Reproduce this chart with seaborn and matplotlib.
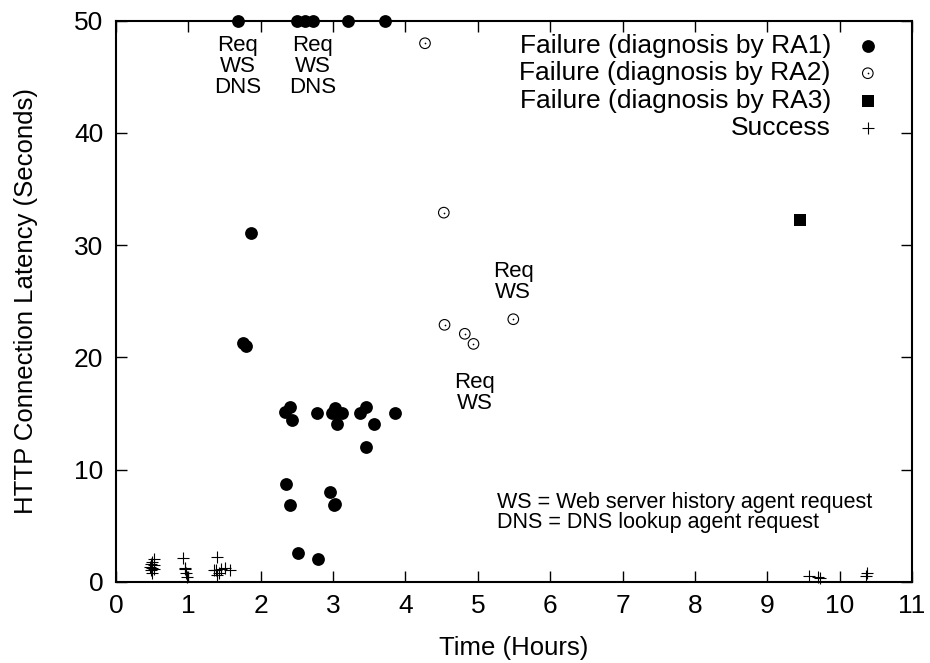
import numpy as np
import pandas as pd
import matplotlib
matplotlib.use('Agg')
import matplotlib.pyplot as plt
import seaborn as sns

# Datos (horas, segundos)
ra1_horas = [1.69, 2.50, 2.61, 2.72, 3.21, 3.72,
             1.86, 1.76, 1.79,
             2.33, 2.40, 2.43, 2.78, 3.02, 2.98, 3.05, 3.12, 3.06, 3.37, 3.45, 3.57, 3.85, 3.46,
             2.35, 2.41, 2.96, 3.01, 3.03, 2.52, 2.79]
ra1_latencia = [50, 50, 50, 50, 50, 50,
                31.1, 21.3, 21.0,
                15.1, 15.6, 14.4, 15.0, 15.45, 15.0, 15.0, 15.0, 14.1, 15.0, 15.55, 14.1, 15.0, 12.0,
                8.7, 6.8, 8.0, 6.85, 6.9, 2.6, 2.0]

ra2_horas = [4.27, 4.53, 4.54, 4.82, 4.94, 5.49]
ra2_latencia = [48.0, 32.9, 22.9, 22.1, 21.2, 23.4]

ra3_horas = [9.45]
ra3_latencia = [32.2]

exito_horas = [0.48, 0.50, 0.52, 0.50, 0.52, 0.47, 0.53, 0.50, 0.49,
               0.93, 0.95, 0.97, 0.98, 0.96,
               1.40, 1.38, 1.42, 1.45, 1.50, 1.57, 1.40, 1.35,
               9.58, 9.70, 9.73, 10.37, 10.38]
exito_latencia = [1.0, 1.2, 1.5, 1.8, 2.0, 1.3, 1.1, 0.8, 1.6,
                  2.1, 1.2, 0.8, 0.4, 1.1,
                  2.2, 1.0, 0.8, 1.1, 1.2, 1.05, 0.6, 1.0,
                  0.5, 0.45, 0.3, 0.5, 0.75]

etiquetas_serie = ['Failure (diagnosis by RA1)', 'Failure (diagnosis by RA2)',
                   'Failure (diagnosis by RA3)', 'Success']

# Anotaciones: (texto, hora, latencia)
anotaciones = [('Req\nWS\nDNS', 1.68, 45.9), ('Req\nWS\nDNS', 2.72, 45.9),
               ('Req\nWS', 5.49, 26.7), ('Req\nWS', 4.96, 16.8)]
nota = 'WS = Web server history agent request\nDNS = DNS lookup agent request'

sns.set_style('ticks')
plt.rcParams['font.family'] = ['Liberation Sans', 'DejaVu Sans']
plt.rcParams['text.color'] = 'black'
plt.rcParams['axes.labelcolor'] = 'black'
plt.rcParams['xtick.color'] = 'black'
plt.rcParams['ytick.color'] = 'black'


def generar_grafico():
    df1 = pd.DataFrame({'Hora': ra1_horas, 'Latencia': ra1_latencia})
    df2 = pd.DataFrame({'Hora': ra2_horas, 'Latencia': ra2_latencia})
    df3 = pd.DataFrame({'Hora': ra3_horas, 'Latencia': ra3_latencia})
    df4 = pd.DataFrame({'Hora': exito_horas, 'Latencia': exito_latencia})

    fig = plt.figure(figsize=(9.3, 6.63), dpi=100)
    ax = fig.add_axes([0.1247, 0.1226, 0.856, 0.846])

    sns.scatterplot(data=df1, x='Hora', y='Latencia', ax=ax, marker='o', s=85,
                    color='black', edgecolor='black', linewidth=0, legend=False, clip_on=False, zorder=3)
    h1 = ax.collections[-1]
    sns.scatterplot(data=df2, x='Hora', y='Latencia', ax=ax, marker='o', s=58,
                    facecolor='none', edgecolor='black', linewidth=0.8, legend=False, clip_on=False, zorder=3)
    h2a = ax.collections[-1]
    sns.scatterplot(data=df2, x='Hora', y='Latencia', ax=ax, marker='o', s=1.5,
                    color='black', linewidth=0, legend=False, clip_on=False, zorder=3)
    h2b = ax.collections[-1]
    sns.scatterplot(data=df3, x='Hora', y='Latencia', ax=ax, marker='s', s=85,
                    color='black', edgecolor='black', linewidth=0, legend=False, clip_on=False, zorder=3)
    h3 = ax.collections[-1]
    sns.scatterplot(data=df4, x='Hora', y='Latencia', ax=ax, marker='+', s=65,
                    color='black', linewidth=0.8, legend=False, clip_on=False, zorder=3)
    h4 = ax.collections[-1]

    ax.set_xlim(0, 11)
    ax.set_ylim(0, 50)
    ax.set_xticks(range(0, 12))
    ax.set_yticks(range(0, 51, 10))
    ax.tick_params(axis='both', which='both', direction='in', length=8, width=1,
                   top=True, right=True, labelsize=19, pad=9, colors='black')
    for sp in ax.spines.values():
        sp.set_visible(True)
        sp.set_linewidth(1.5)
        sp.set_color('black')

    ax.set_xlabel('Time (Hours)', fontsize=18.5, labelpad=13)
    ax.set_ylabel('HTTP Connection Latency (Seconds)', fontsize=18.5, labelpad=26)

    for texto, hx, ly in anotaciones:
        ax.text(hx, ly, texto, ha='center', va='center', fontsize=16, linespacing=1.0)
    ax.text(5.26, 6.17, nota, ha='left', va='center', fontsize=15.5, linespacing=0.92)

    ax.legend([h1, (h2a, h2b), h3, h4], etiquetas_serie, loc='upper right',
              bbox_to_anchor=(0.961, 0.977), frameon=False, markerfirst=False,
              fontsize=19, handlelength=1.0, handletextpad=0.9, labelspacing=0.13,
              borderpad=0, borderaxespad=0)

    fig.savefig('out.png', dpi=100)
    plt.close(fig)


if __name__ == '__main__':
    generar_grafico()
